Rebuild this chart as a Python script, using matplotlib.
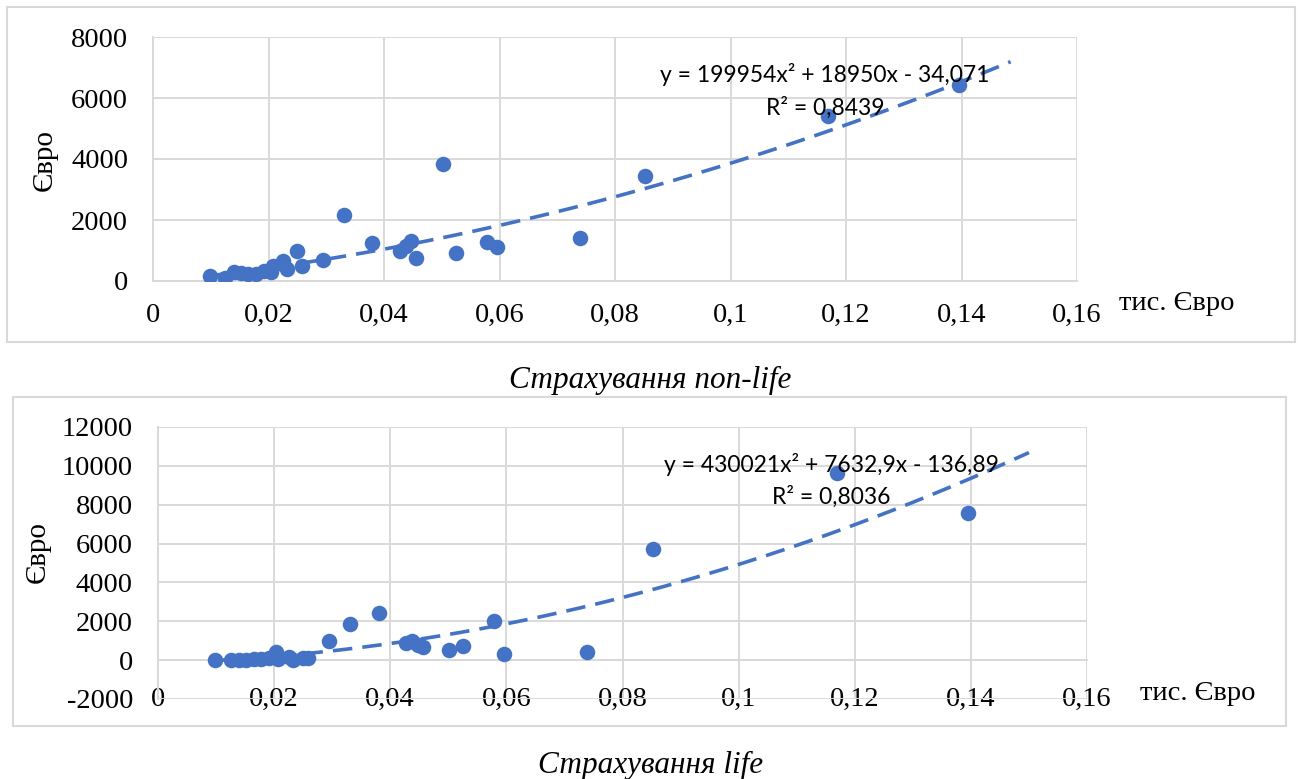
import numpy as np
import matplotlib
matplotlib.use("Agg")
import matplotlib.pyplot as plt
from matplotlib.patches import Rectangle

plt.rcParams["axes.unicode_minus"] = False

# shared x values (тис. Євро)
x = [0.0098, 0.0125, 0.0140, 0.0152, 0.0165, 0.0178, 0.0192, 0.0204, 0.0207,
     0.0225, 0.0232, 0.0250, 0.0258, 0.0294, 0.0330, 0.0380, 0.0427, 0.0438,
     0.0447, 0.0456, 0.0502, 0.0525, 0.0578, 0.0596, 0.0739, 0.0852, 0.1169,
     0.1395]
# non-life premiums (Євро)
y_nonlife = [170, 105, 300, 260, 225, 240, 340, 310, 480, 650, 380, 990, 490,
             690, 2150, 1260, 1000, 1160, 1300, 750, 3850, 920, 1270, 1110,
             1410, 3430, 5400, 6415]
# life premiums (Євро)
y_life = [20, 0, 30, 20, 50, 40, 120, 430, 60, 180, 30, 90, 120, 980, 1870,
          2410, 880, 980, 770, 660, 510, 720, 2040, 340, 410, 5700, 9620, 7560]

# Excel trend lines as printed on the chart (poly order 2)
coef_nonlife = [199954, 18950, -34.071]
coef_life = [430021, 7632.9, -136.89]
eq_nonlife = ["y = 199954x² + 18950x - 34,071", "R² = 0,8439"]
eq_life = ["y = 430021x² + 7632,9x - 136,89", "R² = 0,8036"]
trend_end = [0.1485, 0.15]

xticks = [0, 0.02, 0.04, 0.06, 0.08, 0.1, 0.12, 0.14, 0.16]
xtick_lbl = ["0", "0,02", "0,04", "0,06", "0,08", "0,1", "0,12", "0,14", "0,16"]
yticks_top = [0, 2000, 4000, 6000, 8000]
yticks_bot = [-2000, 0, 2000, 4000, 6000, 8000, 10000, 12000]

BLUE = "#4472C4"
GRID = "#D9D9D9"
W, H = 1298, 779
SERIF = "Liberation Serif"


def px_box(l, t, r, b):
    return [l / W, 1 - b / H, (r - l) / W, (b - t) / H]


fig = plt.figure(figsize=(W / 100, H / 100), dpi=100)

# outer chart frames
for l, t, r, b in [(7, 7, 1295, 342), (13, 397, 1286, 726)]:
    fig.add_artist(Rectangle((l / W, 1 - b / H), (r - l) / W, (b - t) / H,
                             transform=fig.transFigure, fill=False,
                             edgecolor=GRID, lw=1.5))

specs = [
    (px_box(153, 37, 1077, 281), y_nonlife, coef_nonlife, eq_nonlife,
     yticks_top, (825, 75, 108), (45, 160), (1177, 304), trend_end[0], 16),
    (px_box(158, 427, 1087, 699), y_life, coef_life, eq_life,
     yticks_bot, (831, 465, 497), (38, 552), (1198, 694), trend_end[1], 19),
]

for rect, ys, coef, eq, yt, eqpos, ylpos, xlpos, xend, xpad in specs:
    ax = fig.add_axes(rect)
    ax.set_xlim(0, 0.16)
    ax.set_ylim(yt[0], yt[-1])
    ax.set_xticks(xticks)
    ax.set_xticklabels(xtick_lbl)
    ax.set_yticks(yt)
    ax.grid(True, color=GRID, lw=1.4)
    ax.set_axisbelow(True)
    for s in ["top", "right"]:
        ax.spines[s].set_visible(False)
    for s in ["left", "bottom"]:
        ax.spines[s].set_color(GRID)
        ax.spines[s].set_linewidth(1.4)
    ax.spines["bottom"].set_position(("data", 0))
    ax.tick_params(length=0, labelsize=20.5)
    ax.tick_params(axis="x", pad=xpad)
    ax.tick_params(axis="y", pad=18)
    for lab in ax.get_xticklabels() + ax.get_yticklabels():
        lab.set_fontfamily(SERIF)

    ax.scatter(x, ys, s=125, color=BLUE, zorder=3, linewidths=0)
    xt = np.linspace(min(x), xend, 200)
    ax.plot(xt, np.polyval(coef, xt), color=BLUE, lw=2.6, dashes=(5.4, 2.8),
            zorder=4)

    cx, y1, y2 = eqpos
    fig.text(cx / W, 1 - y1 / H, eq[0], ha="center", va="center",
             fontsize=16.5, family="Lato", zorder=5)
    fig.text(cx / W, 1 - y2 / H, eq[1], ha="center", va="center",
             fontsize=16.5, family="Lato", zorder=5)
    fig.text(ylpos[0] / W, 1 - ylpos[1] / H, "Євро", rotation=90,
             ha="center", va="center", fontsize=21, family=SERIF)
    fig.text(xlpos[0] / W, 1 - xlpos[1] / H, "тис. Євро", ha="center",
             va="center", fontsize=20.5, family=SERIF)

fig.text(650 / W, 1 - 380 / H, "Страхування non-life", ha="center",
         va="center", fontsize=22.5, family=SERIF, style="italic")
fig.text(651 / W, 1 - 765 / H, "Страхування life", ha="center",
         va="center", fontsize=22.5, family=SERIF, style="italic")

fig.savefig("out.png", dpi=100)
